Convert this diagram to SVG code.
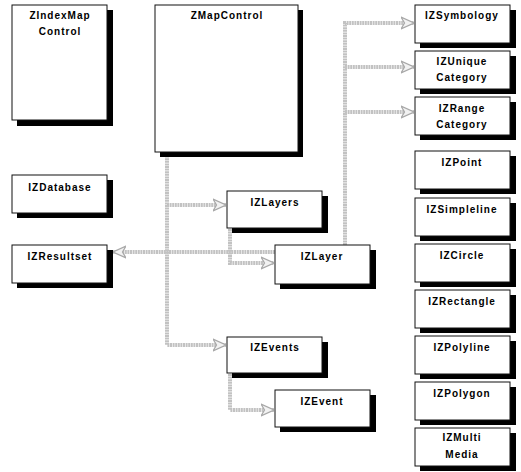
<svg xmlns="http://www.w3.org/2000/svg" width="521" height="472" viewBox="0 0 521 472">
<style>
.sh{fill:#000}
.bx{fill:#fff;stroke:#111;stroke-width:1}
.lb{font-family:"Liberation Sans",Arial,sans-serif;font-weight:bold;font-size:10px;letter-spacing:1px;text-anchor:middle;fill:#000}
.cn{fill:none;stroke:#c2c2c2;stroke-width:4;stroke-dasharray:2 0.6}
</style>
<defs>
<marker id="ar" viewBox="0 -7 13 14" refX="13" refY="0" markerWidth="13" markerHeight="14" markerUnits="userSpaceOnUse" orient="auto">
<path d="M0,-6 L13,0 L0,6 L3.5,0 Z" fill="#f2f2f2" stroke="#a8a8a8" stroke-width="1.3" stroke-linejoin="round"/>
</marker>
</defs>
<rect width="521" height="472" fill="#fff"/>
<g id="connectors">
<path class="cn" d="M167,153 V345 H226" marker-end="url(#ar)"/>
<path class="cn" d="M167,205 H226" marker-end="url(#ar)"/>
<path class="cn" d="M230,229 V263 H274" marker-end="url(#ar)"/>
<path class="cn" d="M275,252 H113" marker-end="url(#ar)"/>
<path class="cn" d="M230,374 V410 H274" marker-end="url(#ar)"/>
<path class="cn" d="M345,245 V23 H414" marker-end="url(#ar)"/>
<path class="cn" d="M345,67 H414" marker-end="url(#ar)"/>
<path class="cn" d="M345,112 H414" marker-end="url(#ar)"/>
</g>
<g id="ZIndexMapControl"><rect class="sh" x="17" y="10" width="96" height="116"/><rect class="bx" x="12" y="5" width="95" height="115"/><text class="lb" x="60" y="19">ZIndexMap</text><text class="lb" x="60" y="35">Control</text></g>
<g id="ZMapControl"><rect class="sh" x="160" y="10" width="143" height="147"/><rect class="bx" x="155" y="5" width="143" height="147"/><text class="lb" x="227" y="19">ZMapControl</text></g>
<g id="IZDatabase"><rect class="sh" x="17" y="180" width="96" height="38"/><rect class="bx" x="12" y="175" width="95" height="38"/><text class="lb" x="60" y="191">IZDatabase</text></g>
<g id="IZResultset"><rect class="sh" x="17" y="250" width="96" height="38"/><rect class="bx" x="12" y="245" width="95" height="38"/><text class="lb" x="60" y="260">IZResultset</text></g>
<g id="IZLayers"><rect class="sh" x="232" y="196" width="96" height="37"/><rect class="bx" x="227" y="191" width="95" height="37"/><text class="lb" x="275" y="206">IZLayers</text></g>
<g id="IZLayer"><rect class="sh" x="280" y="250" width="96" height="39"/><rect class="bx" x="275" y="245" width="95" height="39"/><text class="lb" x="322" y="260">IZLayer</text></g>
<g id="IZEvents"><rect class="sh" x="232" y="342" width="96" height="36"/><rect class="bx" x="227" y="337" width="95" height="36"/><text class="lb" x="275" y="351">IZEvents</text></g>
<g id="IZEvent"><rect class="sh" x="280" y="395" width="96" height="37"/><rect class="bx" x="275" y="390" width="95" height="37"/><text class="lb" x="322" y="405">IZEvent</text></g>
<g id="IZSymbology"><rect class="sh" x="420" y="10" width="96" height="38"/><rect class="bx" x="415" y="5" width="95" height="38"/><text class="lb" x="462" y="19">IZSymbology</text></g>
<g id="IZUniqueCategory"><rect class="sh" x="420" y="56" width="96" height="38"/><rect class="bx" x="415" y="51" width="95" height="38"/><text class="lb" x="462" y="65">IZUnique</text><text class="lb" x="462" y="81">Category</text></g>
<g id="IZRangeCategory"><rect class="sh" x="420" y="102" width="96" height="38"/><rect class="bx" x="415" y="97" width="95" height="38"/><text class="lb" x="462" y="112">IZRange</text><text class="lb" x="462" y="128">Category</text></g>
<g id="IZPoint"><rect class="sh" x="420" y="156" width="96" height="38"/><rect class="bx" x="415" y="151" width="95" height="38"/><text class="lb" x="462" y="166">IZPoint</text></g>
<g id="IZSimpleline"><rect class="sh" x="420" y="203" width="96" height="38"/><rect class="bx" x="415" y="198" width="95" height="38"/><text class="lb" x="462" y="213">IZSimpleline</text></g>
<g id="IZCircle"><rect class="sh" x="420" y="249" width="96" height="38"/><rect class="bx" x="415" y="244" width="95" height="38"/><text class="lb" x="462" y="259">IZCircle</text></g>
<g id="IZRectangle"><rect class="sh" x="420" y="295" width="96" height="38"/><rect class="bx" x="415" y="290" width="95" height="38"/><text class="lb" x="462" y="305">IZRectangle</text></g>
<g id="IZPolyline"><rect class="sh" x="420" y="341" width="96" height="38"/><rect class="bx" x="415" y="336" width="95" height="38"/><text class="lb" x="462" y="351">IZPolyline</text></g>
<g id="IZPolygon"><rect class="sh" x="420" y="387" width="96" height="38"/><rect class="bx" x="415" y="382" width="95" height="38"/><text class="lb" x="462" y="397">IZPolygon</text></g>
<g id="IZMultiMedia"><rect class="sh" x="420" y="433" width="96" height="38"/><rect class="bx" x="415" y="428" width="95" height="38"/><text class="lb" x="462" y="441">IZMulti</text><text class="lb" x="462" y="458">Media</text></g>
</svg>
